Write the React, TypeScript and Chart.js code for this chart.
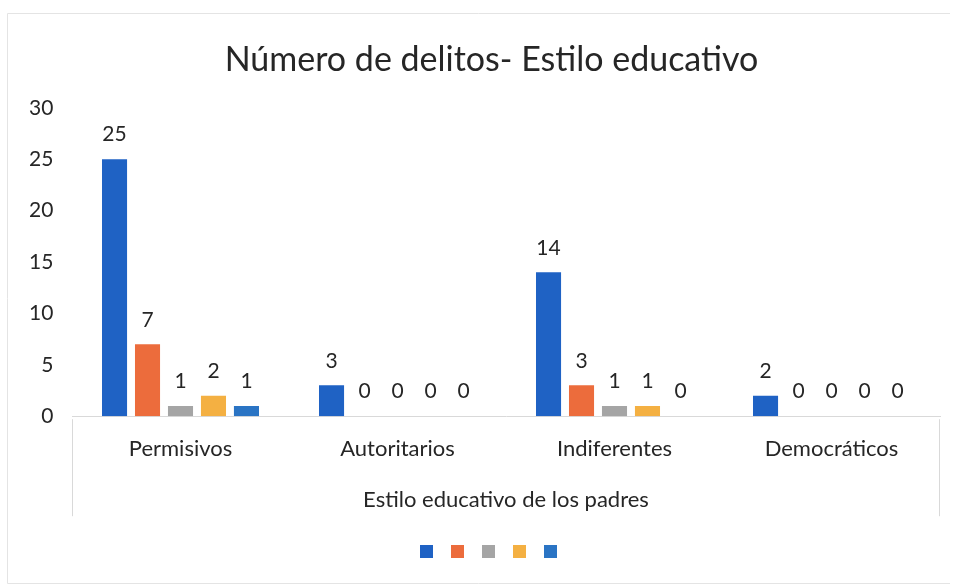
import React, { useEffect, useRef } from "react";
import { Chart, registerables } from "chart.js";

Chart.register(...registerables);

const categories = ["Permisivos", "Autoritarios", "Indiferentes", "Democráticos"];
const series1 = [25, 3, 14, 2];
const series2 = [7, 0, 3, 0];
const series3 = [1, 0, 1, 0];
const series4 = [2, 0, 1, 0];
const series5 = [1, 0, 0, 0];
const colors = ["#1f62c4", "#ec6c3c", "#a5a5a5", "#f4b042", "#2a74c4"];
const titleText = "Número de delitos- Estilo educativo";
const xTitle = "Estilo educativo de los padres";

const FONT = "Lato, 'Open Sans', sans-serif";

const decor = {
  id: "decor",
  beforeDraw(chart: any) {
    const ctx = chart.ctx;
    ctx.save();
    ctx.fillStyle = "#ffffff";
    ctx.fillRect(0, 0, chart.width, chart.height);
    ctx.strokeStyle = "#e4e4e4";
    ctx.lineWidth = 1;
    ctx.beginPath();
    ctx.moveTo(7.5, 583.5);
    ctx.lineTo(7.5, 13.5);
    ctx.lineTo(950, 13.5);
    ctx.moveTo(7.5, 583.5);
    ctx.lineTo(950, 583.5);
    ctx.stroke();
    const a = chart.chartArea;
    ctx.strokeStyle = "#d9d9d9";
    ctx.beginPath();
    ctx.moveTo(a.left + 0.5, a.bottom + 3);
    ctx.lineTo(a.left + 0.5, a.bottom + 100);
    ctx.moveTo(a.right - 0.5, a.bottom + 3);
    ctx.lineTo(a.right - 0.5, a.bottom + 100);
    ctx.stroke();
    ctx.restore();
  },
  afterDatasetsDraw(chart: any) {
    const ctx = chart.ctx;
    ctx.save();
    ctx.font = `21px ${FONT}`;
    ctx.fillStyle = "#262626";
    ctx.textAlign = "center";
    ctx.textBaseline = "bottom";
    chart.data.datasets.forEach((ds: any, i: number) => {
      const meta = chart.getDatasetMeta(i);
      meta.data.forEach((bar: any, j: number) => {
        const v = ds.data[j];
        ctx.fillText(String(v), bar.x, bar.y - 14);
      });
    });
    ctx.restore();
  },
};

export default function App() {
  const ref = useRef<HTMLCanvasElement>(null);
  useEffect(() => {
    if (!ref.current) return;
    const data = [series1, series2, series3, series4, series5];
    const chart = new Chart(ref.current, {
      type: "bar",
      data: {
        labels: categories,
        datasets: data.map((d, i) => ({
          label: "",
          data: d,
          backgroundColor: colors[i],
          borderWidth: 0,
          categoryPercentage: 0.76,
          barPercentage: 0.76,
        })),
      },
      options: {
        animation: false,
        responsive: false,
        layout: { padding: { left: 43, right: 19, top: 20, bottom: 18 } },
        plugins: {
          title: {
            display: true,
            text: titleText,
            color: "#262626",
            font: { family: FONT, size: 34, weight: "normal" },
            padding: { top: 20, bottom: 27 },
          },
          legend: {
            display: true,
            position: "bottom",
            labels: {
              boxWidth: 13,
              boxHeight: 13,
              padding: 12,
              font: { size: 12 },
            },
          },
          tooltip: { enabled: false },
        },
        scales: {
          y: {
            min: 0,
            max: 30,
            afterFit: (s: any) => {
              s.width = 29;
            },
            ticks: {
              stepSize: 5,
              color: "#262626",
              font: { family: FONT, size: 21 },
              mirror: true,
              crossAlign: "far",
              padding: -43,
            },
            grid: { display: false, drawTicks: false },
            border: { display: false },
          },
          x: {
            ticks: {
              color: "#262626",
              font: { family: FONT, size: 22 },
              padding: 12,
            },
            grid: { display: false },
            border: { display: true, color: "#d9d9d9" },
            title: {
              display: true,
              text: xTitle,
              color: "#262626",
              font: { family: FONT, size: 22 },
              padding: { top: 12, bottom: 20 },
            },
          },
        },
      },
      plugins: [decor],
    });
    return () => chart.destroy();
  }, []);
  return (
    <div style={{ position: "absolute", left: 0, top: 0, width: 959, height: 586 }}>
      <canvas ref={ref} width={959} height={586} />
    </div>
  );
}
